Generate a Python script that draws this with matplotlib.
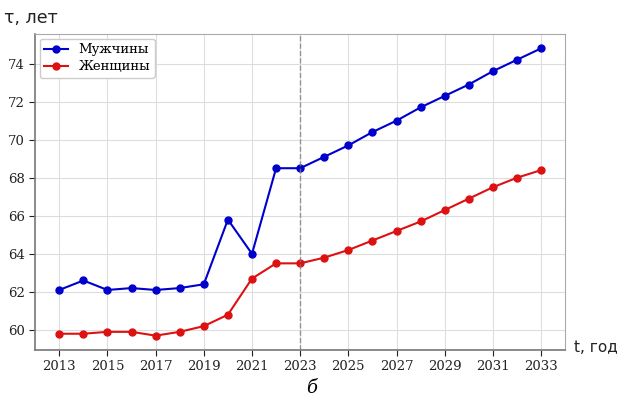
import matplotlib.pyplot as plt

# Data
years = list(range(2013, 2034))
men = [62.1, 62.6, 62.1, 62.2, 62.1, 62.2, 62.4, 65.8, 64.0, 68.5, 68.5,
       69.1, 69.7, 70.4, 71.0, 71.7, 72.3, 72.9, 73.6, 74.2, 74.8]
women = [59.8, 59.8, 59.9, 59.9, 59.7, 59.9, 60.2, 60.8, 62.7, 63.5, 63.5,
         63.8, 64.2, 64.7, 65.2, 65.7, 66.3, 66.9, 67.5, 68.0, 68.4]
xticks = list(range(2013, 2034, 2))
split_year = 2023

plt.rcParams['font.family'] = 'DejaVu Serif'

fig = plt.figure(figsize=(6.17, 4), dpi=100)
ax = fig.add_axes([0.057, 0.125, 0.859, 0.79])

ax.plot(years, men, marker='o', ms=5, lw=1.5, color='#0000cc', label='Мужчины')
ax.plot(years, women, marker='o', ms=5, lw=1.5, color='#dd1111', label='Женщины')
ax.axvline(split_year, color='gray', ls='--', lw=1, alpha=0.8)

ax.set_xticks(xticks)
ax.set_yticks(range(60, 75, 2))
ax.tick_params(labelsize=9.5, colors='#222222', length=4)
ax.grid(True, color='#dddddd', lw=0.8)
ax.set_axisbelow(True)
for s in ['left', 'bottom']:
    ax.spines[s].set_color('#777777')
    ax.spines[s].set_linewidth(1.2)
for s in ['top', 'right']:
    ax.spines[s].set_color('#aaaaaa')

ax.legend(loc='upper left', fontsize=9.5, framealpha=1, edgecolor='#cccccc',
          borderaxespad=0.35, handlelength=1.8, borderpad=0.35, labelspacing=0.3)

fig.text(0.007, 0.955, 'τ, лет', fontsize=12.5, family='DejaVu Sans', color='#222222', va='center')
fig.text(0.931, 0.13, 't, год', fontsize=11, family='DejaVu Sans', color='#222222', va='center')
fig.text(0.505, 0.03, 'б', fontsize=13, style='italic', ha='center', va='center')

fig.savefig('out.png', dpi=100)
plt.close(fig)
